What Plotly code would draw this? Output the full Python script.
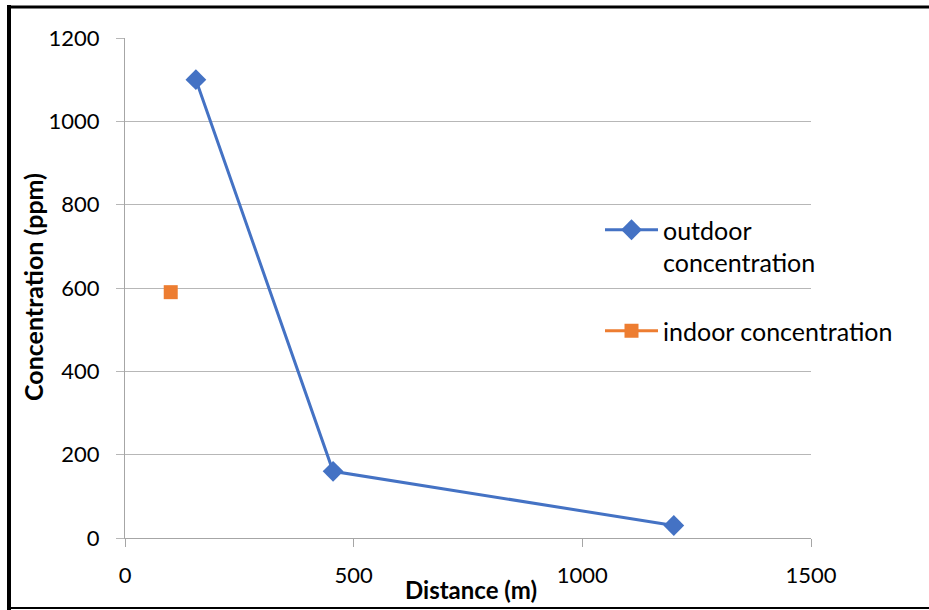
import plotly.graph_objects as go

outdoor_x = [155, 455, 1200]
outdoor_y = [1100, 160, 30]
indoor_x = [100]
indoor_y = [590]

x_ticks = [0, 500, 1000, 1500]
y_ticks = [0, 200, 400, 600, 800, 1000, 1200]

x_title = "Distance (m)"
y_title = "Concentration (ppm)"

W, H = 929, 610
L, R, T, B = 125, 811, 38, 538

def px(x):
    return (x - L) / (R - L)

def py(y):
    return (B - y) / (B - T)

fig = go.Figure()
fig.add_trace(go.Scatter(
    x=outdoor_x, y=outdoor_y, mode="lines+markers",
    name="outdoor<br>concentration", legendgroup="a",
    line=dict(color="#4472C4", width=3),
    marker=dict(symbol="diamond", size=16, color="#4472C4"),
))
fig.add_trace(go.Scatter(
    x=indoor_x, y=indoor_y, mode="lines+markers",
    name="indoor concentration", legendgroup="b",
    line=dict(color="#ED7D31", width=3),
    marker=dict(symbol="square", size=14, color="#ED7D31"),
))

font = "Lato, 'Open Sans', sans-serif"
axis_color = "#A6A6A6"
grid_color = "#B7B7B7"

fig.update_layout(
    width=W, height=H,
    margin=dict(l=L, r=W - R, t=T, b=H - B),
    paper_bgcolor="white", plot_bgcolor="white",
    font=dict(family=font, size=22, color="black"),
    showlegend=True,
    legend=dict(x=px(600), y=py(207), xanchor="left", yanchor="top",
                font=dict(size=25, family=font), tracegroupgap=33,
                valign="top",
                bgcolor="rgba(0,0,0,0)", itemwidth=53),
    xaxis=dict(range=[0, 1500], tickvals=x_ticks, showgrid=False,
               showline=True, linecolor=axis_color, linewidth=1,
               ticks="outside", ticklen=8, tickcolor=axis_color,
               zeroline=False, tickfont=dict(size=22), ticklabelstandoff=10,
               automargin=False),
    yaxis=dict(range=[0, 1200], tickvals=y_ticks, showgrid=True,
               gridcolor=grid_color, gridwidth=1,
               showline=True, linecolor=axis_color, linewidth=1,
               ticks="outside", ticklen=8, tickcolor=grid_color,
               zeroline=False, tickfont=dict(size=22), ticklabelstandoff=12,
               automargin=False),
    annotations=[
        dict(text="<b>" + x_title + "</b>", xref="paper", yref="paper",
             x=px(471), y=py(589), xanchor="center", yanchor="middle",
             showarrow=False, font=dict(size=24)),
        dict(text="<b>" + y_title + "</b>", xref="paper", yref="paper",
             x=px(33), y=py(287), xanchor="center", yanchor="middle",
             textangle=-90, showarrow=False, font=dict(size=25)),
    ],
    shapes=[
        dict(type="line", xref="paper", yref="paper", x0=px(9), x1=px(9), y0=py(5), y1=py(612),
             line=dict(color="black", width=4)),
        dict(type="line", xref="paper", yref="paper", x0=px(7), x1=px(935), y0=py(7), y1=py(7),
             line=dict(color="black", width=3)),
        dict(type="line", xref="paper", yref="paper", x0=px(7), x1=px(935), y0=py(608), y1=py(608),
             line=dict(color="black", width=2)),
    ],
)

fig.write_html("out.html")
